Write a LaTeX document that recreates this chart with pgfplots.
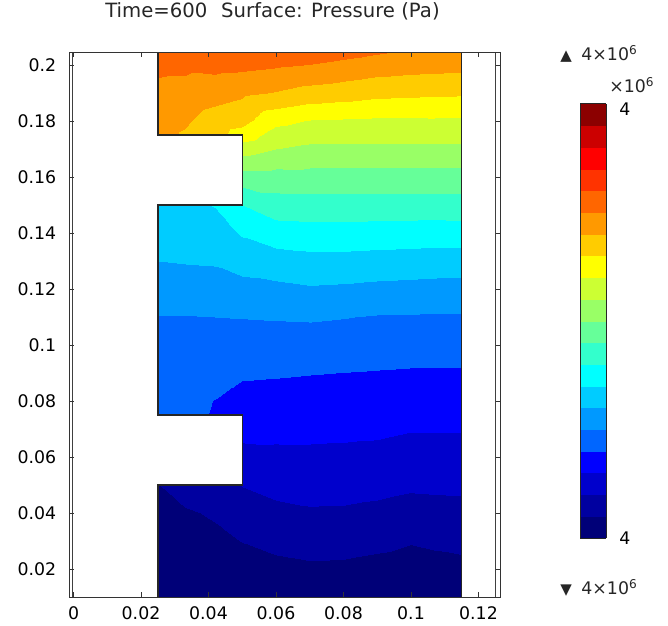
\documentclass[border=0pt]{standalone}
\usepackage{fontspec}
\setmainfont{DejaVu Sans}
\usepackage{pgfplots}
\pgfplotsset{compat=1.18}

% pressure field, in colour-level units (0..20)
\pgfplotstableread{
x y p
0.025 0.0100 0.15
0.033 0.0100 0.2
0.042 0.0100 0.3
0.050 0.0100 0.3
0.060 0.0100 0.4
0.070 0.0100 0.4
0.080 0.0100 0.4
0.090 0.0100 0.35
0.100 0.0100 0.3
0.107 0.0100 0.35
0.115 0.0100 0.4
0.025 0.020 0.3
0.033 0.020 0.35
0.042 0.020 0.5
0.050 0.020 0.6
0.060 0.020 0.75
0.070 0.020 0.85
0.080 0.020 0.82
0.090 0.020 0.7
0.100 0.020 0.6
0.107 0.020 0.7
0.115 0.020 0.75
0.025 0.030 0.5
0.033 0.030 0.6
0.042 0.030 0.8
0.050 0.030 1.02
0.060 0.030 1.25
0.070 0.030 1.37
0.080 0.030 1.34
0.090 0.030 1.24
0.100 0.030 1.06
0.107 0.030 1.15
0.115 0.030 1.24
0.025 0.040 0.7
0.033 0.040 0.9
0.042 0.040 1.1
0.050 0.040 1.52
0.060 0.040 1.77
0.070 0.040 1.89
0.080 0.040 1.87
0.090 0.040 1.77
0.100 0.040 1.62
0.107 0.040 1.68
0.115 0.040 1.71
0.025 0.050 0.98
0.033 0.050 1.4
0.042 0.050 1.6
0.050 0.050 2.03
0.060 0.050 2.28
0.070 0.050 2.35
0.080 0.050 2.34
0.090 0.050 2.27
0.100 0.050 2.14
0.107 0.050 2.16
0.115 0.050 2.19
0.025 0.060 2.0
0.033 0.060 2.3
0.042 0.060 2.5
0.050 0.060 2.73
0.060 0.060 2.79
0.070 0.060 2.81
0.080 0.060 2.78
0.090 0.060 2.73
0.100 0.060 2.6
0.107 0.060 2.62
0.115 0.060 2.61
0.025 0.070 3.0
0.033 0.070 3.2
0.042 0.070 3.4
0.050 0.070 3.26
0.060 0.070 3.24
0.070 0.070 3.22
0.080 0.070 3.2
0.090 0.070 3.17
0.100 0.070 3.05
0.107 0.070 3.05
0.115 0.070 3.05
0.025 0.075 4.12
0.033 0.075 4.1
0.042 0.075 3.95
0.050 0.075 3.48
0.060 0.075 3.45
0.070 0.075 3.42
0.080 0.075 3.4
0.090 0.075 3.36
0.100 0.075 3.26
0.107 0.075 3.26
0.115 0.075 3.26
0.025 0.080 4.24
0.033 0.080 4.22
0.042 0.080 3.98
0.050 0.080 3.69
0.060 0.080 3.65
0.070 0.080 3.62
0.080 0.080 3.6
0.090 0.080 3.56
0.100 0.080 3.48
0.107 0.080 3.48
0.115 0.080 3.48
0.025 0.090 4.49
0.033 0.090 4.47
0.042 0.090 4.4
0.050 0.090 4.12
0.060 0.090 4.08
0.070 0.090 4.03
0.080 0.090 3.99
0.090 0.090 3.95
0.100 0.090 3.91
0.107 0.090 3.9
0.115 0.090 3.9
0.025 0.100 4.73
0.033 0.100 4.72
0.042 0.100 4.7
0.050 0.100 4.57
0.060 0.100 4.56
0.070 0.100 4.55
0.080 0.100 4.5
0.090 0.100 4.45
0.100 0.100 4.4
0.107 0.100 4.39
0.115 0.100 4.38
0.025 0.110 4.97
0.033 0.110 4.97
0.042 0.110 5.0
0.050 0.110 5.03
0.060 0.110 5.07
0.070 0.110 5.1
0.080 0.110 5.03
0.090 0.110 4.94
0.100 0.110 4.92
0.107 0.110 4.91
0.115 0.110 4.9
0.025 0.120 5.47
0.033 0.120 5.5
0.042 0.120 5.55
0.050 0.120 5.69
0.060 0.120 5.77
0.070 0.120 5.9
0.080 0.120 5.85
0.090 0.120 5.75
0.100 0.120 5.7
0.107 0.120 5.66
0.115 0.120 5.63
0.025 0.130 6.0
0.033 0.130 6.06
0.042 0.130 6.1
0.050 0.130 6.37
0.060 0.130 6.56
0.070 0.130 6.69
0.080 0.130 6.69
0.090 0.130 6.62
0.100 0.130 6.57
0.107 0.130 6.53
0.115 0.130 6.52
0.025 0.140 6.5
0.033 0.140 6.5
0.042 0.140 6.55
0.050 0.140 7.1
0.060 0.140 7.52
0.070 0.140 7.58
0.080 0.140 7.6
0.090 0.140 7.57
0.100 0.140 7.53
0.107 0.140 7.5
0.115 0.140 7.52
0.025 0.150 6.8
0.033 0.150 6.8
0.042 0.150 7.05
0.050 0.150 8.0
0.060 0.150 8.55
0.070 0.150 8.59
0.080 0.150 8.58
0.090 0.150 8.56
0.100 0.150 8.56
0.107 0.150 8.56
0.115 0.150 8.56
0.025 0.160 8.0
0.033 0.160 9.0
0.042 0.160 10.0
0.050 0.160 9.55
0.060 0.160 9.59
0.070 0.160 9.63
0.080 0.160 9.62
0.090 0.160 9.6
0.100 0.160 9.6
0.107 0.160 9.6
0.115 0.160 9.6
0.025 0.170 11.0
0.033 0.170 12.0
0.042 0.170 12.0
0.050 0.170 11.41
0.060 0.170 11.0
0.070 0.170 10.78
0.080 0.170 10.78
0.090 0.170 10.78
0.100 0.170 10.8
0.107 0.170 10.8
0.115 0.170 10.8
0.025 0.175 14.3
0.033 0.175 13.9
0.042 0.175 13.3
0.050 0.175 12.58
0.060 0.175 11.56
0.070 0.175 11.38
0.080 0.175 11.34
0.090 0.175 11.33
0.100 0.175 11.33
0.107 0.175 11.34
0.115 0.175 11.34
0.025 0.180 14.34
0.033 0.180 14.13
0.042 0.180 13.54
0.050 0.180 13.3
0.060 0.180 12.27
0.070 0.180 11.94
0.080 0.180 11.88
0.090 0.180 11.82
0.100 0.180 11.84
0.107 0.180 11.86
0.115 0.180 11.86
0.025 0.190 14.76
0.033 0.190 14.67
0.042 0.190 14.4
0.050 0.190 14.17
0.060 0.190 13.94
0.070 0.190 13.62
0.080 0.190 13.47
0.090 0.190 13.27
0.100 0.190 13.2
0.107 0.190 13.16
0.115 0.190 13.13
0.025 0.200 15.2
0.033 0.200 15.2
0.042 0.200 15.3
0.050 0.200 15.27
0.060 0.200 15.12
0.070 0.200 14.97
0.080 0.200 14.73
0.090 0.200 14.52
0.100 0.200 14.4
0.107 0.200 14.35
0.115 0.200 14.3
0.025 0.2047 15.4
0.033 0.2047 15.45
0.042 0.2047 15.5
0.050 0.2047 15.6
0.060 0.2047 15.7
0.070 0.2047 15.6
0.080 0.2047 15.35
0.090 0.2047 15.1
0.100 0.2047 14.85
0.107 0.2047 14.8
0.115 0.2047 14.75
}\pressure

\pgfplotsset{
  colormap={comsol}{
    rgb255=(0,0,120); rgb255=(0,0,160); rgb255=(0,0,204); rgb255=(0,0,255);
    rgb255=(0,102,255); rgb255=(0,153,255); rgb255=(0,204,255); rgb255=(0,255,255);
    rgb255=(51,255,204); rgb255=(102,255,153); rgb255=(153,255,102); rgb255=(204,255,51);
    rgb255=(255,255,0); rgb255=(255,204,0); rgb255=(255,153,0); rgb255=(255,102,0);
    rgb255=(255,51,0); rgb255=(255,0,0); rgb255=(204,0,0); rgb255=(140,0,0)
  },
}

\newcommand{\lblfont}{\fontsize{10.4}{12}\selectfont}

\begin{document}
\begin{tikzpicture}
\begin{axis}[
    view={0}{90},
    scale only axis,
    width=258.6pt, height=327pt,
    xmin=-0.00119, xmax=0.12652,
    ymin=0.0100, ymax=0.2047,
    xtick={0,0.02,0.04,0.06,0.08,0.1,0.12},
    xticklabels={0,0.02,0.04,0.06,0.08,0.1,0.12},
    ytick={0.02,0.04,0.06,0.08,0.1,0.12,0.14,0.16,0.18,0.2},
    yticklabels={0.02,0.04,0.06,0.08,0.1,0.12,0.14,0.16,0.18,0.2},
    ztick=\empty,
    xtick pos=both, ytick pos=both,
    tick align=inside,
    major tick length=3pt,
    tick style={black!80, line width=0.6pt},
    axis line style={black!80, line width=0.6pt},
    xticklabel style={font=\lblfont, yshift=-2.5pt},
    yticklabel style={font=\lblfont, xshift=-4.5pt},
    axis on top,
    clip mode=individual,
    colormap name=comsol,
    colormap access=piecewise constant,
    point meta min=0, point meta max=20,
    title={Time=600\hspace{0.7em}Surface: Pressure (Pa)},
    title style={at={(0.471,1)}, anchor=base, yshift=15pt,
      font=\fontsize{11.8}{14}\selectfont, text=black!85},
]
\addplot3[surf, shader=interp, mesh/rows=23, mesh/cols=11]
  table[x=x, y=y, z=p, meta=p] {\pressure};

% the two notches are not part of the domain
\addplot3[fill=white, draw=none, no marks] coordinates {
  (0.020,0.05,20) (0.05,0.05,20) (0.05,0.075,20) (0.020,0.075,20)};
\addplot3[fill=white, draw=none, no marks] coordinates {
  (0.020,0.15,20) (0.05,0.15,20) (0.05,0.175,20) (0.020,0.175,20)};

% domain boundary
\addplot3[black!85, line width=0.8pt, no marks] coordinates {
  (0.025,0.0100,20) (0.025,0.05,20) (0.05,0.05,20) (0.05,0.075,20)
  (0.025,0.075,20) (0.025,0.15,20) (0.05,0.15,20) (0.05,0.175,20)
  (0.025,0.175,20) (0.025,0.2047,20)};
\addplot3[black!85, line width=0.8pt, no marks] coordinates {
  (0.115,0.0100,20) (0.115,0.2047,20)};

% doubled frame lines left and right
\addplot3[black!75, line width=0.6pt, no marks] coordinates {
  (-0.0003,0.0100,20) (-0.0003,0.2047,20)};
\addplot3[black!75, line width=0.6pt, no marks] coordinates {
  (0.1249,0.0100,20) (0.1249,0.2047,20)};

% max / min markers and colour bar factor
\node[anchor=base, font=\lblfont, text=black!85] at (axis description cs:1.2285,0.9835)
  {{\fontsize{9}{10}\selectfont ▲}\hspace{0.55em}4×10\textsuperscript{6}};
\node[anchor=base, font=\lblfont, text=black!85] at (axis description cs:1.305,0.925)
  {×10\textsuperscript{6}};
\node[anchor=base, font=\lblfont, text=black!85] at (axis description cs:1.2285,0.0037)
  {{\fontsize{9}{10}\selectfont ▼}\hspace{0.55em}4×10\textsuperscript{6}};
\end{axis}

% colour legend
\begin{axis}[
    at={(306.3pt,295.8pt)}, anchor=north west,
    view={0}{90},
    scale only axis,
    width=15.6pt, height=260.4pt,
    xmin=0, xmax=1, ymin=0, ymax=20,
    xtick=\empty, ztick=\empty,
    ytick={0,19.75}, yticklabels={4,4},
    yticklabel pos=right,
    major tick length=0pt,
    yticklabel style={font=\lblfont, xshift=4.5pt},
    axis line style={black!85, line width=0.6pt},
    axis on top,
    colormap name=comsol,
    colormap access=piecewise constant,
    point meta min=0, point meta max=20,
]
\addplot3[surf, shader=interp, mesh/rows=2, mesh/cols=2]
  coordinates {(0,0,0) (1,0,0) (0,20,20) (1,20,20)};
\end{axis}
\pgfresetboundingbox
\path[use as bounding box] (-41.7pt,-16.8pt) rectangle (359.1pt,358.2pt);
\end{tikzpicture}
\end{document}
